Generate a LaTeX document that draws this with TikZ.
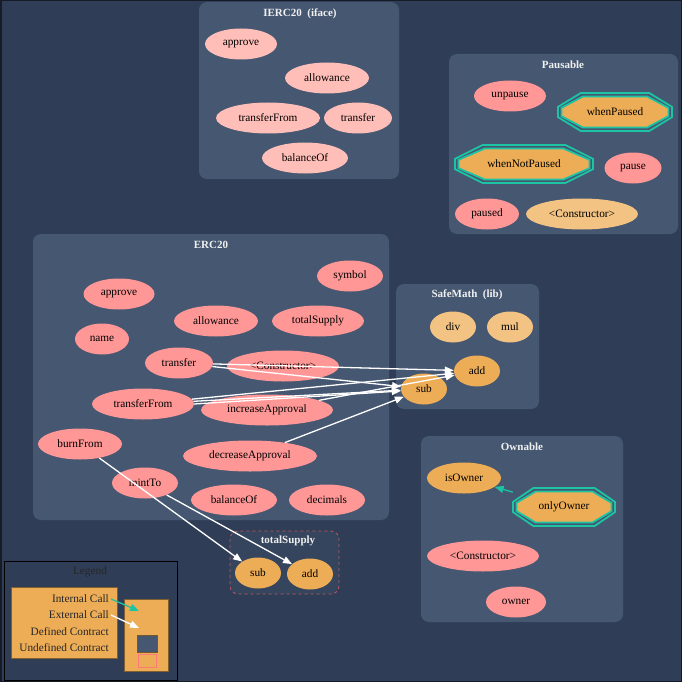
\documentclass[tikz,border=0pt]{standalone}
\usepackage{fontspec}
\setmainfont{Liberation Serif}
\usetikzlibrary{shapes.geometric,arrows.meta}

\definecolor{bgc}{HTML}{2F3E56}
\definecolor{clusc}{HTML}{455771}
\definecolor{fnc}{HTML}{FF9797}
\definecolor{ifnc}{HTML}{FFBEB7}
\definecolor{callc}{HTML}{EDAD56}
\definecolor{libc}{HTML}{F2C383}
\definecolor{tealc}{HTML}{1CC4A4}
\definecolor{dashc}{HTML}{C0565E}

% octagon modifier: name, x, y, half width, half height, text
\newcommand{\octpts}[2]{(-#1,-.27*#2) -- (-.6*#1,-#2) -- (.6*#1,-#2) -- (#1,-.27*#2) -- (#1,.27*#2) -- (.6*#1,#2) -- (-.6*#1,#2) -- (-#1,.27*#2) -- cycle}
\newcommand{\modnode}[6]{%
  \pgfmathsetmacro\octIW{#4-3.5}\pgfmathsetmacro\octIH{#5-3.5}
  \begin{scope}[shift={(#2,#3)}]
    \draw[octline] \octpts{#4}{#5};
    \draw[octline, fill=callc] \octpts{\octIW}{\octIH};
  \end{scope}
  \node[modtxt, minimum width=2*#4, minimum height=2*#5] (#1) at (#2,#3) {#6};}

\begin{document}
\begin{tikzpicture}[
x=1pt, y=-1pt,
font=\fontsize{11.3}{13}\selectfont,
ext/.style={white, line width=1.3pt, -{Triangle[length=9pt,width=7pt]}},
int/.style={tealc, line width=1.3pt, -{Triangle[length=9pt,width=7pt]}},
]
\tikzset{
	fn/.style={ellipse, fill=fnc, inner sep=0pt, minimum height=31},
	ifn/.style={fn, fill=ifnc},
	lib/.style={fn, fill=libc},
	call/.style={fn, fill=callc},
	clus/.style={fill=clusc, rounded corners=8pt},
	ttl/.style={text=white!94!black, font=\fontsize{11}{13}\selectfont\bfseries},
	octline/.style={tealc, line width=1.8pt},
	modtxt/.style={rectangle, inner sep=0pt},
	leg/.style={anchor=east, text=black!85, inner sep=0pt},
}
\useasboundingbox (0,0) rectangle (682,682);
\fill[bgc] (0,0) rectangle (682,682);
\draw[black!55!bgc, line width=1.5pt] (0.75,0.75) rectangle (681.25,681.25);

% IERC20 (iface)
\fill[clus] (199,2) rectangle (399,179);
\node[ttl] (tiface) at (300,14) {IERC20\ \ (iface)};
\node[ifn, minimum width=72] (iapprove) at (241,44) {approve};
\node[ifn, minimum width=84] (iallow) at (327,78) {allowance};
\node[ifn, minimum width=104] (itfrom) at (268,118) {transferFrom};
\node[ifn, minimum width=68] (itrans) at (358,118) {transfer};
\node[ifn, minimum width=86] (ibal) at (305,158) {balanceOf};

% Pausable
\fill[clus] (449,54) rectangle (678,234);
\node[ttl] (tpaus) at (563,65) {Pausable};
\node[fn, minimum width=72] (unpause) at (510,96) {unpause};
\modnode{wpaused}{615}{112}{57}{19}{whenPaused}
\modnode{wnpaused}{524}{164}{69}{19}{whenNotPaused}
\node[fn, minimum width=57] (pause) at (633,168) {pause};
\node[fn, minimum width=64] (paused) at (487,214) {paused};
\node[lib, minimum width=112] (pctor) at (582,214) {<Constructor>};

% ERC20
\fill[clus] (33,234) rectangle (389,520);
\node[ttl] (terc) at (211,245) {ERC20};
\node[fn, minimum width=66] (symbol) at (350,276) {symbol};
\node[fn, minimum width=71] (approve) at (119,294) {approve};
\node[fn, minimum width=84] (allow) at (216,321) {allowance};
\node[fn, minimum width=92] (tsupply) at (318,321) {totalSupply};
\node[fn, minimum width=54] (name) at (102,339) {name};
\node[fn, minimum width=68] (transfer) at (179,363) {transfer};
\node[fn, minimum width=112] (ector) at (283,366) {<Constructor>};
\node[fn, minimum width=102] (tfrom) at (143,404) {transferFrom};
\node[fn, minimum width=132] (incapp) at (267,410) {increaseApproval};
\node[fn, minimum width=84] (burn) at (80,444) {burnFrom};
\node[fn, minimum width=134] (decapp) at (250,456) {decreaseApproval};
\node[fn, minimum width=66] (mint) at (145,483) {mintTo};
\node[fn, minimum width=86] (ebal) at (234,500) {balanceOf};
\node[fn, minimum width=76] (decimals) at (327,500) {decimals};

% SafeMath (lib)
\fill[clus] (396,284) rectangle (539,409);
\node[ttl] (tsafe) at (467,295) {SafeMath\ \ (lib)};
\node[lib, minimum width=46] (div) at (453,327) {div};
\node[lib, minimum width=46] (mul) at (510,327) {mul};
\node[call, minimum width=46] (add) at (477,371) {add};
\node[call, minimum width=46] (sub) at (424,389) {sub};

% Ownable
\fill[clus] (421,436) rectangle (623,622);
\node[ttl] (town) at (522,447) {Ownable};
\node[call, minimum width=74] (isowner) at (464,478) {isOwner};
\modnode{onlyowner}{564}{507}{51}{19}{onlyOwner}
\node[fn, minimum width=112] (octor) at (483,556) {<Constructor>};
\node[fn, minimum width=60] (owner) at (516,602) {owner};

% totalSupply
\draw[clus, fill=bgc!70!clusc, draw=dashc, dashed, thick] (230,531) rectangle (339,594);
\node[ttl] (ttot) at (288,541) {totalSupply};
\node[call, minimum width=46] (tsub) at (258,573) {sub};
\node[call, minimum width=46] (tadd) at (310,574) {add};

% calls
\draw[ext] (transfer) -- (add);
\draw[ext] (transfer) -- (sub);
\draw[ext] (tfrom) -- (add);
\draw[ext] (tfrom) -- (sub);
\draw[ext] (tfrom.east) -- ([yshift=-2pt]sub.west);
\draw[ext] (incapp) -- (add);
\draw[ext] (decapp) -- (sub);
\draw[ext] (burn) -- (tsub);
\draw[ext] (mint) -- (tadd);
\draw[int] (onlyowner) -- (isowner);

% Legend
\draw[black, line width=1pt] (4,561) rectangle (177,680);
\node[text=black!85] (tleg) at (90,572) {Legend};
\draw[fill=callc, draw=black!45!callc] (11,587) rectangle (117,658);
\draw[fill=callc, draw=black!45!callc] (124,599) rectangle (168,671);
\node[leg] (lint) at (109,599) {Internal Call};
\node[leg] (lext) at (109,615) {External Call};
\node[leg] (ldef) at (109,632) {Defined Contract};
\node[leg] (lund) at (109,648) {Undefined Contract};
\coordinate (lintend) at (139,611);
\coordinate (lextend) at (139,628);
\draw[int] ([xshift=2pt]lint.east) -- (lintend);
\draw[ext] ([xshift=2pt]lext.east) -- (lextend);
\draw[fill=clusc, draw=black!50!callc] (137,635) rectangle (157,652);
\draw[fill=callc, draw=fnc!80!red] (138,654) rectangle (156,667);
\end{tikzpicture}
\end{document}
